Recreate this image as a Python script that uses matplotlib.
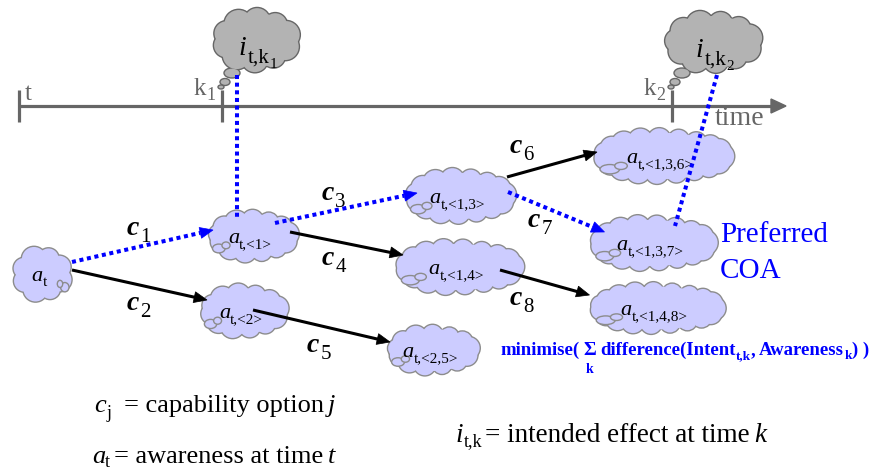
import matplotlib
matplotlib.use('Agg')
import matplotlib.pyplot as plt
from matplotlib.patches import Circle, Ellipse, Polygon
import numpy as np

plt.rcParams['font.family'] = ['Liberation Serif', 'DejaVu Serif']

# ---------------- data ----------------
node_ids = ['t', '<1>', '<2>', '<1,3>', '<1,4>', '<2,5>', '<1,3,6>', '<1,3,7>', '<1,4,8>']
node_subs = ['t', 't,<1>', 't,<2>', 't,<1,3>', 't,<1,4>', 't,<2,5>', 't,<1,3,6>', 't,<1,3,7>', 't,<1,4,8>']
edge_src = ['t', 't', '<1>', '<1>', '<2>', '<1,3>', '<1,3>', '<1,4>']
edge_dst = ['<1>', '<2>', '<1,3>', '<1,4>', '<2,5>', '<1,3,6>', '<1,3,7>', '<1,4,8>']
edge_cap = ['1', '2', '3', '4', '5', '6', '7', '8']
preferred_caps = ['1', '3', '7']
time_labels = ['t', 'k', 'k']
time_subs = ['', '1', '2']
intent_subs = ['1', '2']
intent_nodes = ['<1>', '<1,3,7>']
preferred_text = ['Preferred', 'COA']

# ---------------- layout (pixel space) ----------------
node_cx = [42, 253, 244, 460, 459, 433, 663, 653, 657]
node_cy = [274, 236, 311, 196, 267, 350, 156, 243, 308]
node_w = [60, 90, 88, 110, 128, 92, 140, 127, 135]
node_h = [55, 52, 54, 55, 55, 50, 55, 55, 51]
src_off = [(0, -12), (0, -4), (-23, -13), (-8, -4), (-35, -1), (-8, -19), (-7, -4), (-23, 3)]
tip_off = [(5, -6), (7, -11), (12, -3), (8, -12), (3, -8), (4, -4), (15, -11), (0, -13)]
cap_pos = [(127, 235), (127, 310), (322, 200), (322, 265), (307, 352), (510, 153), (528, 227), (510, 305)]
tick_x = [19, 222, 672]
timeline_y = 106
intent_cx = [256, 713]
intent_cy = [40, 42]
intent_w = [88, 98]
intent_h = [64, 62]
intent_link_dx = [(-19, -16), (4, 22)]

BLUE = '#0000FF'
GRAY = '#666666'
FILL = '#CCCCFF'
CLOUD_EDGE = '#8C8C8C'

fig = plt.figure(figsize=(8.77, 4.70), dpi=100)
ax = fig.add_axes([0, 0, 1, 1])
ax.set_xlim(0, 877)
ax.set_ylim(470, 0)
ax.axis('off')
renderer = fig.canvas.get_renderer()


def cloud(cx, cy, w, h, fc, ec, z, bubbles='left'):
    a, b = w / 2.0, h / 2.0
    r = min(a, b) * 0.40
    ea, eb = a - r, b - r
    per = np.pi * (3 * (ea + eb) - np.sqrt((3 * ea + eb) * (ea + 3 * eb)))
    n = max(7, int(round(per / (1.25 * r))))
    th = np.linspace(0, 2 * np.pi, n, endpoint=False) + 0.35
    rad = r * (1 + 0.10 * np.cos(3 * th))
    pts = [(cx + ea * np.cos(t), cy + eb * np.sin(t)) for t in th]
    for (x, y), rr in zip(pts, rad):
        ax.add_patch(Circle((x, y), rr, facecolor=fc, edgecolor=ec, lw=2.0, zorder=z))
    for (x, y), rr in zip(pts, rad):
        ax.add_patch(Circle((x, y), rr, facecolor=fc, edgecolor='none', zorder=z + 0.01))
    ax.add_patch(Ellipse((cx, cy), 2 * ea + 1.2 * r, 2 * eb + 1.2 * r, facecolor=fc,
                         edgecolor='none', zorder=z + 0.01))
    if bubbles:
        sgn = -1 if bubbles == 'left' else 1
        edge = cx + sgn * a
        ax.add_patch(Ellipse((edge - sgn * 0.12 * w, cy + 0.24 * h), 0.14 * w, 0.17 * h,
                             facecolor=fc, edgecolor=ec, lw=1.0, zorder=z + 0.02))
        ax.add_patch(Ellipse((edge - sgn * 0.20 * w, cy + 0.18 * h), 0.09 * w, 0.13 * h,
                             facecolor=fc, edgecolor=ec, lw=1.0, zorder=z + 0.02))


def measure(pieces):
    w = 0
    for txt, size, dy, style, weight, gap in pieces:
        t = ax.text(0, 0, txt, fontsize=size, fontstyle=style, fontweight=weight)
        w += gap + t.get_window_extent(renderer=renderer).width
        t.remove()
    return w


def chain(x, y, pieces, color='black', z=10):
    """pieces: (text, size, dy, style, weight, gap_before)"""
    cur = x
    out = []
    for txt, size, dy, style, weight, gap in pieces:
        cur += gap
        t = ax.text(cur, y + dy, txt, fontsize=size, fontstyle=style, fontweight=weight,
                    color=color, ha='left', va='baseline', zorder=z)
        bb = t.get_window_extent(renderer=renderer)
        out.append((cur, cur + bb.width))
        cur += bb.width
    return out


def arrow(p0, p1, color, dotted):
    p0 = np.array(p0, float)
    p1 = np.array(p1, float)
    v = p1 - p0
    u = v / np.hypot(*v)
    nrm = np.array([-u[1], u[0]])
    hl, hw = 13.0, 5.5
    base = p1 - u * hl
    if dotted:
        ax.plot([p0[0], base[0]], [p0[1], base[1]], color=color, lw=2.9,
                ls=(0, (1.0, 0.9)), dash_capstyle='butt', zorder=6)
    else:
        ax.plot([p0[0], base[0] + u[0] * 2], [p0[1], base[1] + u[1] * 2], color=color,
                lw=2.2, solid_capstyle='butt', zorder=6)
    ax.add_patch(Polygon([p1, base + nrm * hw, base - nrm * hw], closed=True,
                         facecolor=color, edgecolor=color, lw=0.5, zorder=6))


# ---------------- timeline ----------------
ax.plot([tick_x[0], 772], [timeline_y, timeline_y], color=GRAY, lw=2.3,
        solid_capstyle='butt', zorder=2)
ax.add_patch(Polygon([(786, timeline_y), (771, timeline_y - 7), (771, timeline_y + 7)],
                     closed=True, facecolor=GRAY, edgecolor=GRAY, zorder=2))
for x in tick_x:
    ax.plot([x, x], [timeline_y - 16, timeline_y + 16], color=GRAY, lw=2.3,
            solid_capstyle='butt', zorder=2)
chain(25, 100, [(time_labels[0], 18, 0, 'normal', 'normal', 0)], color=GRAY)
for i, x in enumerate(tick_x[1:]):
    chain(x - 28, 95, [(time_labels[i + 1], 18, 0, 'normal', 'normal', 0),
                       (time_subs[i + 1], 13, 5, 'normal', 'normal', 0)], color=GRAY)
chain(715, 125, [('time', 20, 0, 'normal', 'normal', 0)], color=GRAY)

# ---------------- intent clouds ----------------
for k in range(2):
    cx, cy, w, h = intent_cx[k], intent_cy[k], intent_w[k], intent_h[k]
    cloud(cx, cy, w, h, '#B3B3B3', GRAY, 3, bubbles=None)
    tx = tick_x[k + 1]
    for (dx, dy, ew, eh) in [(10, 73, 16, 10), (3, 82, 10, 7), (-1, 87, 6, 4)]:
        ax.add_patch(Ellipse((tx + dx, dy), ew, eh, facecolor='#B3B3B3', edgecolor=GRAY,
                             lw=1.0, zorder=3))
    pieces = [('i', 20, 0, 'italic', 'normal', 0),
              ('t,k', 15, 8, 'normal', 'normal', 1),
              (intent_subs[k], 11, 13, 'normal', 'normal', 0)]
    width = measure(pieces)
    chain(cx - width / 2 + 2, cy + 15, pieces)

# ---------------- awareness clouds ----------------
idx = {n: i for i, n in enumerate(node_ids)}
for i in range(len(node_ids)):
    cloud(node_cx[i], node_cy[i], node_w[i], node_h[i], FILL, CLOUD_EDGE, 4,
          bubbles='right' if i == 0 else 'left')
    pieces = [('a', 16, 0, 'italic', 'normal', 0), (node_subs[i], 11, 5, 'normal', 'normal', 0)]
    width = measure(pieces)
    chain(node_cx[i] - width / 2 - 3, node_cy[i] + 7, pieces, z=5)

# ---------------- intent links ----------------
for k in range(2):
    n = idx[intent_nodes[k]]
    x0 = intent_cx[k] + intent_link_dx[k][0]
    x1 = node_cx[n] + intent_link_dx[k][1]
    ax.plot([x0, x1], [75, node_cy[n] - 17], color=BLUE, lw=2.9, ls=(0, (1.0, 0.9)),
            dash_capstyle='butt', zorder=7)

# ---------------- capability edges ----------------
for e in range(len(edge_src)):
    s, d = idx[edge_src[e]], idx[edge_dst[e]]
    p0 = (node_cx[s] + node_w[s] / 2 + src_off[e][0], node_cy[s] + src_off[e][1])
    p1 = (node_cx[d] - node_w[d] / 2 + tip_off[e][0], node_cy[d] + tip_off[e][1])
    pref = edge_cap[e] in preferred_caps
    arrow(p0, p1, BLUE if pref else 'black', pref)
    lx, ly = cap_pos[e]
    chain(lx, ly, [('c', 20, 0, 'italic', 'bold', 0),
                   (edge_cap[e], 15, 7, 'normal', 'normal', 1)])

# ---------------- annotations ----------------
ax.text(720, 242, preferred_text[0], fontsize=21, color=BLUE, va='baseline', ha='left')
ax.text(720, 278, preferred_text[1], fontsize=21, color=BLUE, va='baseline', ha='left')

segs = chain(500, 355, [('minimise(', 13.5, 0, 'normal', 'bold', 0),
                        ('\u03a3', 14, 0, 'normal', 'bold', 4),
                        ('difference(Intent', 13.5, 0, 'normal', 'bold', 4),
                        ('t,k', 9.5, 4, 'normal', 'bold', 0),
                        (',', 13.5, 0, 'normal', 'bold', 0),
                        ('Awareness', 13.5, 0, 'normal', 'bold', 4),
                        ('k', 9.5, 4, 'normal', 'bold', 0),
                        (')', 13.5, 0, 'normal', 'bold', 0),
                        (')', 13.5, 0, 'normal', 'bold', 4)], color=BLUE)
sig_c = (segs[1][0] + segs[1][1]) / 2
ax.text(sig_c, 373, 'k', fontsize=10, fontweight='bold', color=BLUE, ha='center',
        va='baseline')

chain(94, 412, [('c', 19, 0, 'italic', 'normal', 0),
                ('j', 13, 6, 'normal', 'normal', 1),
                ('= capability option', 19, 0, 'normal', 'normal', 12),
                ('j', 19, 0, 'italic', 'normal', 4)])
chain(92, 463, [('a', 19, 0, 'italic', 'normal', 0),
                ('t', 13, 4, 'normal', 'normal', 0),
                ('= awareness at time', 19, 0, 'normal', 'normal', 4),
                ('t', 19, 0, 'italic', 'normal', 4)])
chain(455, 442, [('i', 19.5, 0, 'italic', 'normal', 0),
                 ('t,k', 13, 4, 'normal', 'normal', 1),
                 ('= intended effect at time', 19.5, 0, 'normal', 'normal', 3),
                 ('k', 19.5, 0, 'italic', 'normal', 4)])

fig.savefig('out.png', dpi=100)
